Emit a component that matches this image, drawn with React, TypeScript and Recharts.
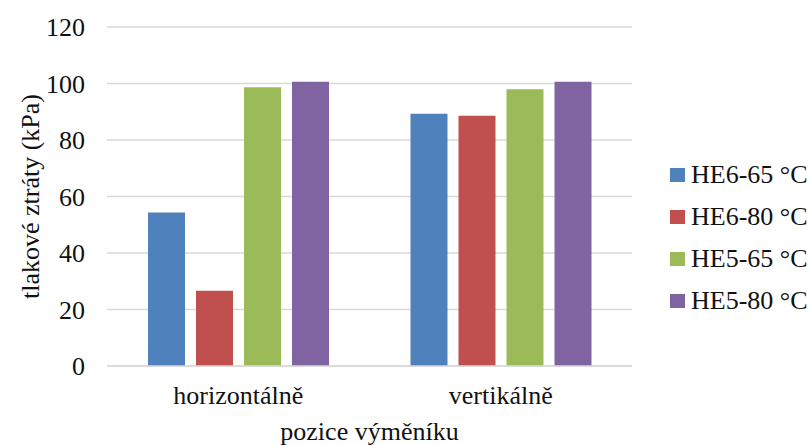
import { BarChart, Bar, XAxis, YAxis, CartesianGrid, Legend } from 'recharts';

const positions = ['horizontálně', 'vertikálně'];
const he6at65 = [54.3, 89.3];
const he6at80 = [26.6, 88.6];
const he5at65 = [98.7, 98.0];
const he5at80 = [100.6, 100.6];
const yTicks = [0, 20, 40, 60, 80, 100, 120];

const series = [
  { key: 'he6at65', name: 'HE6-65 °C', color: '#4F81BD' },
  { key: 'he6at80', name: 'HE6-80 °C', color: '#C0504D' },
  { key: 'he5at65', name: 'HE5-65 °C', color: '#9BBB59' },
  { key: 'he5at80', name: 'HE5-80 °C', color: '#8064A2' },
];

const data = positions.map((p, i) => ({
  position: p,
  he6at65: he6at65[i],
  he6at80: he6at80[i],
  he5at65: he5at65[i],
  he5at80: he5at80[i],
}));

const font = 'Liberation Serif';
const textColor = '#111';

function LegendBox() {
  return (
    <div style={{ fontFamily: font, fontSize: 26, color: textColor }}>
      {series.map((s) => (
        <div key={s.key} style={{ display: 'flex', alignItems: 'center', height: 42 }}>
          <span style={{ width: 15, height: 14, background: s.color, marginRight: 6, display: 'inline-block' }} />
          <span style={{ whiteSpace: 'nowrap' }}>{s.name}</span>
        </div>
      ))}
    </div>
  );
}

export default function App() {
  return (
    <div style={{ position: 'absolute', left: 0, top: 0, background: '#fff', fontFamily: font }}>
      <BarChart
        width={809}
        height={445}
        data={data}
        margin={{ top: 27, right: 177, bottom: 0, left: 0 }}
        barSize={37}
        barGap={11}
      >
        <CartesianGrid vertical={false} stroke="#D9D9D9" strokeWidth={1.5} />
        <XAxis
          dataKey="position"
          height={79}
          axisLine={{ stroke: '#D9D9D9', strokeWidth: 1.5 }}
          tickLine={false}
          tickSize={0}
          tickMargin={20}
          tick={{ fontFamily: font, fontSize: 26, fill: textColor }}
          label={{ value: 'pozice výměníku', position: 'insideBottom', offset: 5, fontFamily: font, fontSize: 26, fill: textColor }}
        />
        <YAxis
          width={107}
          domain={[0, 120]}
          ticks={yTicks}
          axisLine={false}
          tickLine={false}
          tickSize={0}
          tickMargin={22}
          tick={{ fontFamily: font, fontSize: 26, fill: textColor }}
          label={{ value: 'tlakové ztráty (kPa)', angle: -90, position: 'insideLeft', offset: 30, style: { textAnchor: 'middle' }, fontFamily: font, fontSize: 26, fill: textColor }}
        />
        <Legend
          layout="vertical"
          align="center"
          verticalAlign="middle"
          content={() => <LegendBox />}
          wrapperStyle={{ left: 670, top: 154, width: 140 }}
        />
        {series.map((s) => (
          <Bar key={s.key} dataKey={s.key} name={s.name} fill={s.color} isAnimationActive={false} />
        ))}
      </BarChart>
    </div>
  );
}
